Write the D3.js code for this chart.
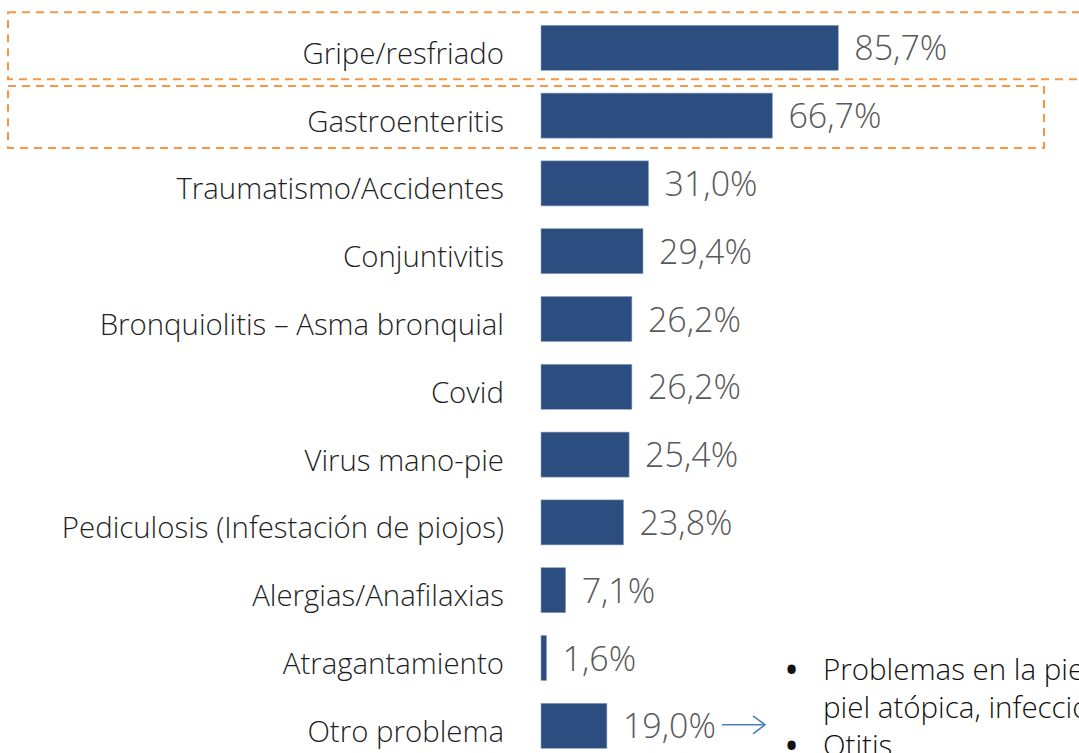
<!DOCTYPE html>
<html>
<head>
<meta charset="utf-8">
<script src="https://cdn.jsdelivr.net/npm/d3@7"></script>
<style>
  html, body { margin: 0; padding: 0; background: #fff; overflow: hidden; }
  svg { display: block; }
</style>
</head>
<body>
<div id="chart"></div>
<script>
// data
const categories = [
  "Gripe/resfriado",
  "Gastroenteritis",
  "Traumatismo/Accidentes",
  "Conjuntivitis",
  "Bronquiolitis – Asma bronquial",
  "Covid",
  "Virus mano-pie",
  "Pediculosis (Infestación de piojos)",
  "Alergias/Anafilaxias",
  "Atragantamiento",
  "Otro problema"
];
const values = [85.7, 66.7, 31.0, 29.4, 26.2, 26.2, 25.4, 23.8, 7.1, 1.6, 19.0];
const highlighted = ["Gripe/resfriado", "Gastroenteritis"];
const otherNotes = [
  ["Problemas en la piel (dermatitis,", "piel atópica, infecciones)"],
  ["Otitis"]
];

const W = 1079, H = 753;
const fmt = v => d3.format(".1f")(v).replace(".", ",") + "%";

const svg = d3.select("#chart").append("svg")
  .attr("width", W)
  .attr("height", H)
  .style("font-family", "'Open Sans', 'Noto Sans', sans-serif");

const x = d3.scaleLinear().domain([0, 100]).range([541, 541 + 346.9]);
const y = d3.scaleBand()
  .domain(categories)
  .range([13.9, 13.9 + 11 * 67.8])
  .paddingInner(0.336)
  .paddingOuter(0.168);

// orange dashed highlight boxes
const boxes = [
  { cat: highlighted[0], x0: 8, x1: 1090, top: 13, bottom: 9 },
  { cat: highlighted[1], x0: 8, x1: 1044, top: 7, bottom: 10 }
];
svg.append("g").selectAll("rect")
  .data(boxes)
  .join("rect")
  .attr("x", d => d.x0)
  .attr("y", d => y(d.cat) - d.top)
  .attr("width", d => d.x1 - d.x0)
  .attr("height", d => y.bandwidth() + d.top + d.bottom)
  .attr("fill", "none")
  .attr("stroke", "#F79646")
  .attr("stroke-width", 2)
  .attr("stroke-dasharray", "8,6");

// bars
svg.append("g").selectAll("rect")
  .data(categories)
  .join("rect")
  .attr("x", x(0))
  .attr("y", d => y(d))
  .attr("width", (d, i) => x(values[i]) - x(0))
  .attr("height", y.bandwidth())
  .attr("fill", "#2C4D7F")
  .attr("stroke", "#8EA3C2")
  .attr("stroke-width", 0.6);

// category labels
svg.append("g").selectAll("text")
  .data(categories)
  .join("text")
  .attr("x", 504)
  .attr("y", d => y(d) + y.bandwidth() / 2 + 16)
  .attr("text-anchor", "end")
  .attr("font-size", 29.4)
  .attr("font-weight", 300)
  .attr("fill", "#1f1f1f")
  .text(d => d);

// value labels
svg.append("g").selectAll("text")
  .data(categories)
  .join("text")
  .attr("x", (d, i) => x(values[i]) + 16)
  .attr("y", d => y(d) + y.bandwidth() / 2 + 12.5)
  .attr("font-size", 34)
  .attr("font-weight", 300)
  .attr("fill", "#595959")
  .text((d, i) => fmt(values[i]));

// arrow to the notes for "Otro problema"
const last = categories[categories.length - 1];
const ay = y(last) + y.bandwidth() / 2 - 1;
const arrow = svg.append("g")
  .attr("stroke", "#4A7EBB")
  .attr("stroke-width", 1.5)
  .attr("fill", "none");
arrow.append("line").attr("x1", 722).attr("x2", 765).attr("y1", ay).attr("y2", ay);
arrow.append("path").attr("d", `M753,${ay - 9}L765,${ay}L753,${ay + 9}`);

// bullet notes (run off the right edge, as in the original slide)
const notes = svg.append("g").attr("font-size", 29.5).attr("font-weight", 300).attr("fill", "#111");
let line = 0;
otherNotes.forEach(lines => {
  lines.forEach((t, j) => {
    const by = 680 + line * 38;
    if (j === 0) notes.append("text").attr("x", 786).attr("y", by).attr("font-weight", 700).text("•");
    notes.append("text").attr("x", 823).attr("y", by).text(t);
    line++;
  });
});
</script>
</body>
</html>
